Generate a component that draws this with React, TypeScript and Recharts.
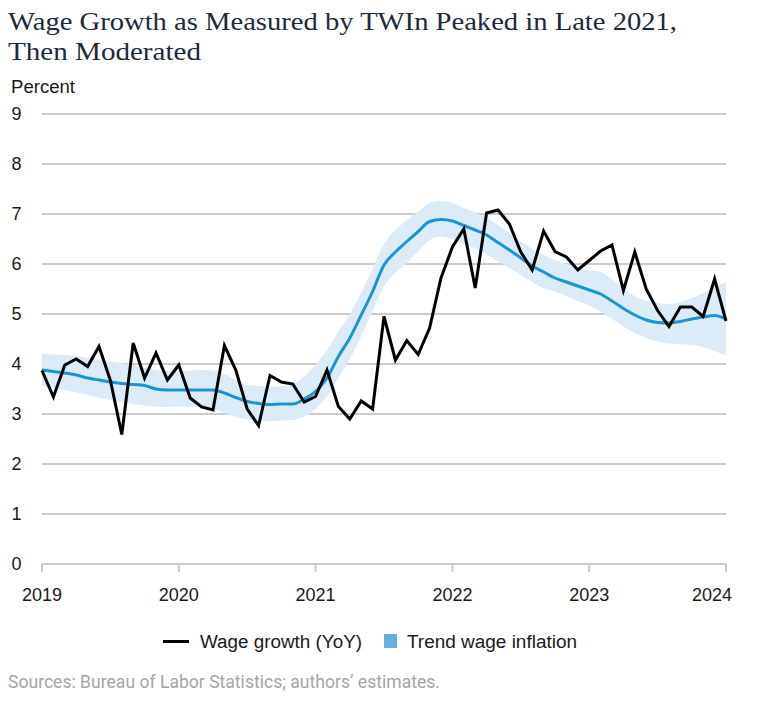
import React from 'react';
import { ComposedChart, Line, Area, XAxis, YAxis, CartesianGrid } from 'recharts';

// ---- data (monthly, Jan 2019 .. Jan 2024) ----
const yearLabels = ['2019', '2020', '2021', '2022', '2023', '2024'];
const yTicks = [0, 1, 2, 3, 4, 5, 6, 7, 8, 9];

const wageGrowth = [
  3.87, 3.34, 3.98, 4.10, 3.95, 4.35, 3.67, 2.59, 4.42, 3.72, 4.22, 3.68,
  3.98, 3.32, 3.14, 3.08, 4.37, 3.88, 3.10, 2.77, 3.77, 3.64, 3.60, 3.24,
  3.35, 3.88, 3.15, 2.90, 3.26, 3.10, 4.95, 4.08, 4.47, 4.19, 4.72, 5.72,
  6.34, 6.70, 5.52, 7.02, 7.08, 6.80, 6.24, 5.88, 6.66, 6.25, 6.14, 5.88,
  6.07, 6.26, 6.38, 5.47, 6.24, 5.50, 5.07, 4.75, 5.14, 5.14, 4.95, 5.70,
  4.86,
];

const trend = [
  3.88, 3.85, 3.82, 3.78, 3.72, 3.68, 3.64, 3.61, 3.59, 3.57, 3.50, 3.48,
  3.48, 3.48, 3.48, 3.48, 3.42, 3.33, 3.25, 3.21, 3.19, 3.20, 3.20, 3.30,
  3.45, 3.72, 4.15, 4.52, 4.98, 5.45, 5.98, 6.24, 6.45, 6.65, 6.85, 6.89,
  6.86, 6.77, 6.68, 6.58, 6.43, 6.28, 6.12, 5.96, 5.84, 5.72, 5.64, 5.56,
  5.48, 5.40, 5.26, 5.11, 4.98, 4.88, 4.83, 4.82, 4.85, 4.90, 4.94, 4.97,
  4.90,
];

const bandUpper = [
  4.20, 4.19, 4.18, 4.16, 4.12, 4.08, 4.05, 4.02, 3.98, 3.92, 3.88, 3.86,
  3.85, 3.87, 3.88, 3.87, 3.80, 3.68, 3.58, 3.56, 3.55, 3.55, 3.60, 3.75,
  3.98, 4.28, 4.65, 5.00, 5.42, 5.90, 6.40, 6.68, 6.88, 7.05, 7.22, 7.26,
  7.22, 7.12, 7.03, 6.92, 6.78, 6.62, 6.45, 6.30, 6.18, 6.08, 6.00, 5.93,
  5.88, 5.84, 5.70, 5.50, 5.36, 5.26, 5.22, 5.20, 5.24, 5.32, 5.42, 5.54,
  5.64,
];

const bandLower = [
  3.57, 3.52, 3.48, 3.43, 3.38, 3.33, 3.28, 3.24, 3.20, 3.17, 3.15, 3.14,
  3.15, 3.14, 3.13, 3.10, 3.02, 2.94, 2.89, 2.86, 2.86, 2.87, 2.88, 2.95,
  3.10, 3.35, 3.72, 4.10, 4.55, 5.05, 5.55, 5.82, 6.02, 6.25, 6.48, 6.55,
  6.50, 6.40, 6.30, 6.20, 6.05, 5.92, 5.78, 5.64, 5.52, 5.45, 5.36, 5.26,
  5.17, 5.05, 4.90, 4.75, 4.62, 4.52, 4.45, 4.41, 4.40, 4.38, 4.34, 4.26,
  4.17,
];

const data = wageGrowth.map((w, i) => ({
  t: i,
  wage: w,
  trend: trend[i],
  band: [bandLower[i], bandUpper[i]],
}));

const xTicks = yearLabels.map((_, i) => i * 12);

const TEXT_FONT = '"Liberation Sans", Arial, sans-serif';
const GRID = '#cbcbcb';

const XTick = (props: any) => {
  const { x, y, payload, index } = props;
  const last = index === yearLabels.length - 1;
  return (
    <text
      x={last ? x - 14 : x}
      y={y}
      dy="0.71em"
      textAnchor="middle"
      fontSize={18}
      fontFamily={TEXT_FONT}
      fill="#1a1a1a"
    >
      {yearLabels[Math.round(payload.value / 12)]}
    </text>
  );
};

export default function App() {
  return (
    <div style={{ position: 'absolute', left: 0, top: 0, width: 771, height: 703, background: '#fff' }}>
      <ComposedChart
        width={771}
        height={703}
        data={data}
        margin={{ top: 114, right: 45, bottom: 99, left: 0 }}
      >
        <CartesianGrid horizontal vertical={false} stroke={GRID} strokeWidth={2} />
        <XAxis
          dataKey="t"
          type="number"
          domain={[0, 60]}
          ticks={xTicks}
          height={40}
          axisLine={{ stroke: GRID, strokeWidth: 2 }}
          tickLine={{ stroke: GRID, strokeWidth: 2 }}
          tickSize={8}
          tickMargin={16}
          tick={<XTick />}
          interval={0}
        />
        <YAxis
          type="number"
          domain={[0, 9]}
          ticks={yTicks}
          width={42}
          axisLine={false}
          tickLine={false}
          tickSize={0}
          tickMargin={20.5}
          interval={0}
          tick={{ fontSize: 18, fontFamily: TEXT_FONT, fill: '#1a1a1a' }}
        />
        <Area
          dataKey="band"
          type="monotone"
          stroke="none"
          fill="#dcebf8"
          fillOpacity={1}
          isAnimationActive={false}
          activeDot={false}
        />
        <Line
          dataKey="trend"
          type="monotone"
          stroke="#1b96d5"
          strokeWidth={3}
          dot={false}
          isAnimationActive={false}
        />
        <Line
          dataKey="wage"
          type="linear"
          stroke="#000000"
          strokeWidth={3}
          dot={false}
          strokeLinejoin="miter"
          isAnimationActive={false}
        />
      </ComposedChart>
      <svg
        width={771}
        height={703}
        style={{ position: 'absolute', left: 0, top: 0, pointerEvents: 'none' }}
      >
        <text
          x={8}
          y={30}
          fontFamily='"Liberation Serif", "Times New Roman", serif'
          fontSize={26}
          fill="#1c2b3c"
          textLength={669}
          lengthAdjust="spacingAndGlyphs"
        >
          Wage Growth as Measured by TWIn Peaked in Late 2021,
        </text>
        <text
          x={8}
          y={60}
          fontFamily='"Liberation Serif", "Times New Roman", serif'
          fontSize={26}
          fill="#1c2b3c"
          textLength={193}
          lengthAdjust="spacingAndGlyphs"
        >
          Then Moderated
        </text>
        <text x={11} y={93} fontFamily={TEXT_FONT} fontSize={18} fill="#1a1a1a" textLength={64} lengthAdjust="spacingAndGlyphs">
          Percent
        </text>
        {/* legend */}
        <line x1={163} y1={641.5} x2={189} y2={641.5} stroke="#000" strokeWidth={3} />
        <text x={200} y={648} fontFamily={TEXT_FONT} fontSize={18} fill="#1a1a1a" textLength={162} lengthAdjust="spacingAndGlyphs">
          Wage growth (YoY)
        </text>
        <rect x={384} y={634} width={13} height={14} fill="#62b0e4" />
        <text x={407} y={648} fontFamily={TEXT_FONT} fontSize={18} fill="#1a1a1a" textLength={170} lengthAdjust="spacingAndGlyphs">
          Trend wage inflation
        </text>
        <text
          x={8}
          y={688}
          fontFamily='Roboto, "Noto Sans", sans-serif'
          fontSize={19}
          fill="#a5a5a5"
          textLength={432}
          lengthAdjust="spacingAndGlyphs"
        >
          Sources: Bureau of Labor Statistics; authors’ estimates.
        </text>
      </svg>
    </div>
  );
}
